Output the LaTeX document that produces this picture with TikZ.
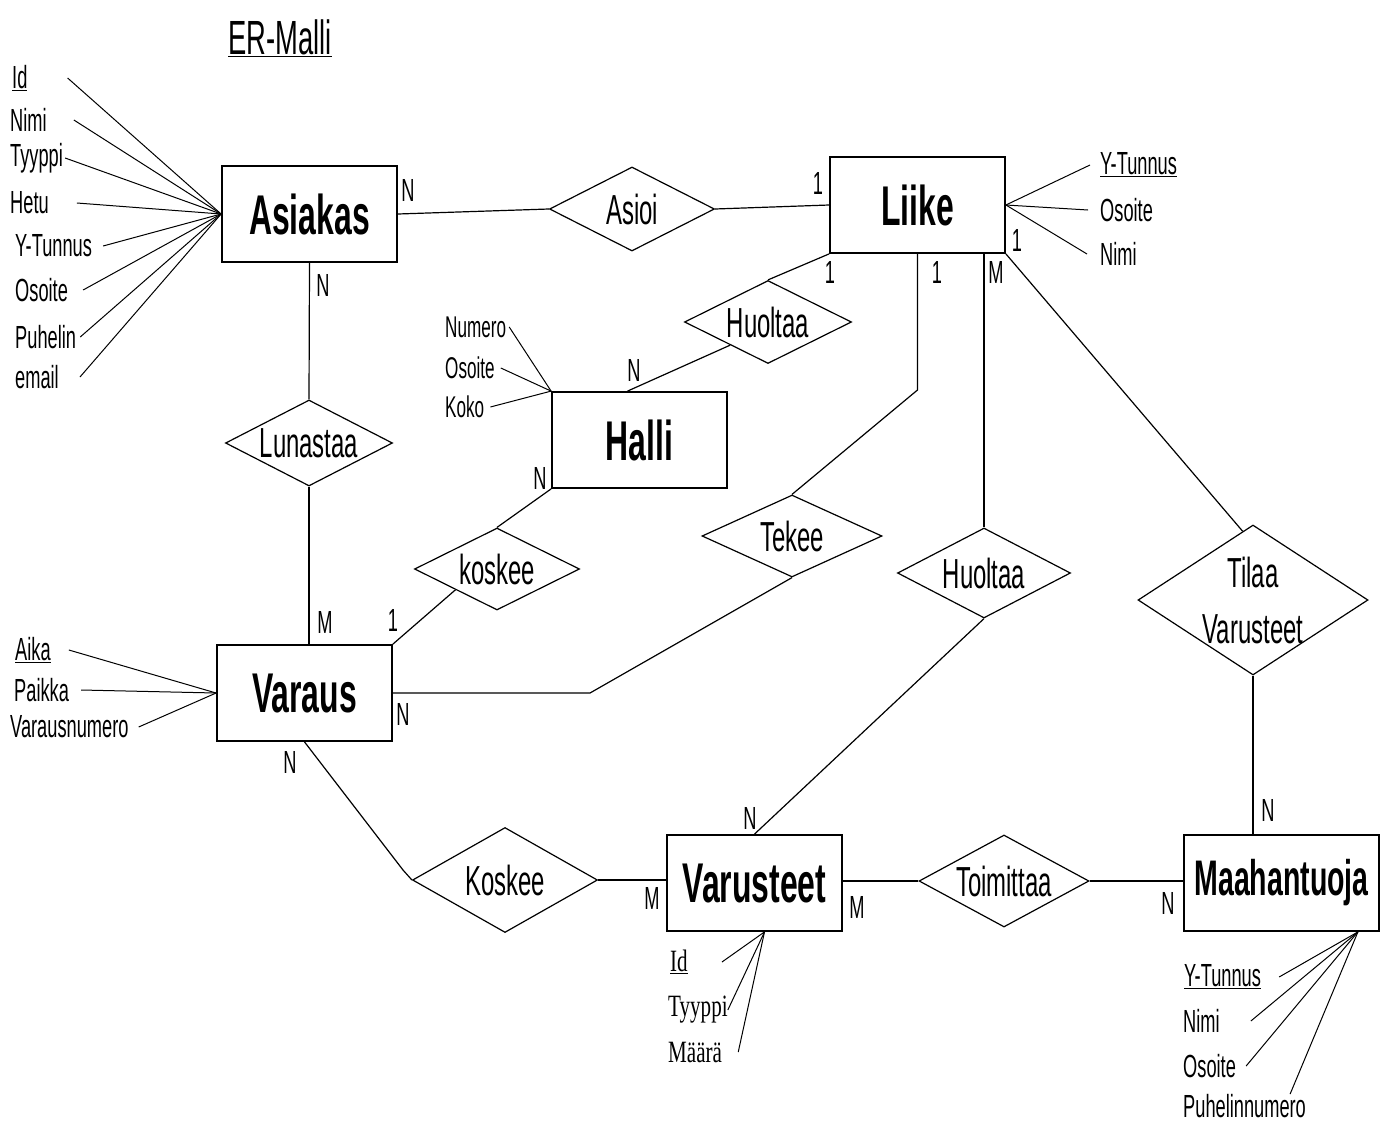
\documentclass[tikz,border=0pt]{standalone}
\usepackage{fontspec}
\setmainfont{Liberation Sans}[FakeStretch=0.57]
\newfontfamily\serifcn{Liberation Serif}[FakeStretch=0.68]
\usetikzlibrary{shapes.geometric,calc}

\tikzset{
  entity/.style={draw, line width=1.8pt, minimum width=175pt, minimum height=96pt, inner sep=0pt,
    font=\bfseries\fontsize{56}{60}\selectfont},
  relation/.style={draw, diamond, aspect=2, inner sep=-6pt, line width=1.2pt,
    font=\fontsize{42}{50}\selectfont},
  attr/.style={inner sep=0pt, anchor=west, font=\fontsize{32}{36}\selectfont},
  card/.style={inner sep=0pt, font=\fontsize{32}{36}\selectfont},
  conn/.style={line width=1.2pt},
  attrline/.style={line width=1pt}
}

\begin{document}
\begin{tikzpicture}[x=1pt, y=-1pt]
  \useasboundingbox (0,0) rectangle (1388,1124);
  \node[inner sep=0pt, font=\fontsize{48}{52}\selectfont] (title) at (280,38) {\underline{ER-Malli}};

  % entities
  \node[entity] (asiakas) at (309.5,214) {Asiakas};
  \node[entity] (liike) at (917.5,205) {Liike};
  \node[entity] (halli) at (639.5,440) {Halli};
  \node[entity] (varaus) at (304.5,693) {Varaus};
  \node[entity] (varusteet) at (754.5,883) {Varusteet};
  \node[entity, minimum width=195pt, font=\bfseries\fontsize{50}{54}\selectfont] (maahan) at (1281.5,883) {Maahantuoja};

  % relationships
  \node[relation, minimum width=165pt, minimum height=84pt] (asioi) at (632,209) {Asioi};
  \node[relation, minimum width=167pt, minimum height=83pt] (huoltaaA) at (768,322) {Huoltaa};
  \node[relation, minimum width=167pt, minimum height=86pt] (lunastaa) at (309,443) {Lunastaa};
  \node[relation, minimum width=165pt, minimum height=82pt] (koskeeA) at (497,569) {koskee};
  \node[relation, minimum width=180pt, minimum height=82pt] (tekee) at (792,536) {Tekee};
  \node[relation, minimum width=173pt, minimum height=90pt] (huoltaaB) at (984,573) {Huoltaa};
  \node[relation, aspect=1.5, inner sep=-8pt, minimum width=230pt, minimum height=150pt, align=center,
    font=\fontsize{42}{56}\selectfont] (tilaa) at (1253,600) {Tilaa\\Varusteet};
  \node[relation, minimum width=185pt, minimum height=105pt] (koskeeB) at (505,880) {Koskee};
  \node[relation, minimum width=170pt, minimum height=92pt] (toimittaa) at (1004,881) {Toimittaa};

  % connectors
  \draw[conn] (asiakas.east) -- (asioi.west);
  \draw[conn] (asioi.east) -- (liike.west);
  \draw[conn] (asiakas.south) -- (lunastaa.north);
  \draw[conn] (lunastaa.south) -- (lunastaa.south |- varaus.north);
  \draw[conn] (liike.south west) -- (huoltaaA.north);
  \draw[conn] ($(halli.north)+(-12,0)$) -- ($(huoltaaA.west)!0.55!(huoltaaA.south)$);
  \draw[conn] (halli.south west) -- (koskeeA.north);
  \draw[conn] (varaus.north east) -- ($(koskeeA.west)!0.5!(koskeeA.south)$);
  \coordinate (tekeeBend) at (917.5,390);
  \draw[conn] (liike.south) -- (tekeeBend) -- (tekee.north);
  \coordinate (varausBend) at (590,693);
  \draw[conn] (tekee.south) -- (varausBend) -- (varaus.east);
  \draw[conn] (huoltaaB.north |- liike.south) -- (huoltaaB.north);
  \draw[conn] (huoltaaB.south) -- (varusteet.north);
  \draw[conn] (liike.south east) -- ($(tilaa.north)!0.09!(tilaa.west)$);
  \draw[conn] (tilaa.south) -- (tilaa.south |- maahan.north);
  \coordinate (koskeeBend) at (403,870);
  \draw[conn] (varaus.south) -- (koskeeBend) -- (koskeeB.west);
  \draw[conn] (koskeeB.east) -- (koskeeB.east -| varusteet.west);
  \draw[conn] (varusteet.east |- toimittaa.west) -- (toimittaa.west);
  \draw[conn] (toimittaa.east) -- (toimittaa.east -| maahan.west);

  % cardinalities
  \foreach \n/\t/\x/\y in {cAsAsioi/N/408/190, cLiAsioi/1/818/183, cAsLun/N/323/285, cVaLun/M/325/622,
      cVaKos/1/393/620, cLiHuol/1/830/272, cHaHuol/N/634/370, cHaKos/N/540/478, cLiTek/1/937/272,
      cLiHuolB/M/996/272, cLiTil/1/1017/240, cVaTek/N/403/714, cVaKosB/N/290/762, cVeHuol/N/750/818,
      cVeKos/M/652/898, cVeToim/M/857/907, cMaToim/N/1168/903, cMaTil/N/1268/810}
    \node[card] (\n) at (\x,\y) {\t};

  % attributes of Asiakas
  \foreach \n/\t/\x/\y/\g in {aId/\underline{Id}/12/78/40, aNimi/Nimi/10/120/27, aTyyppi/Tyyppi/10/158/2,
      aHetu/Hetu/10/203/28, aYtunnus/Y-Tunnus/15/246/11, aOsoite/Osoite/15/290/15,
      aPuhelin/Puhelin/15/337/4, aEmail/email/15/377/21}
    {
      \node[attr] (\n) at (\x,\y) {\t};
      \draw[attrline] ([xshift=\g]\n.east) -- (asiakas.west);
    }

  % attributes of Varaus
  \foreach \n/\t/\x/\y/\g in {vAika/\underline{Aika}/15/650/18, vPaikka/Paikka/14/690/12,
      vNumero/Varausnumero/10/727/10}
    {
      \node[attr] (\n) at (\x,\y) {\t};
      \draw[attrline] ([xshift=\g]\n.east) -- (varaus.west);
    }

  % attributes of Liike
  \foreach \n/\t/\x/\y/\g in {lYtunnus/\underline{Y-Tunnus}/1100/165/-10, lOsoite/Osoite/1100/210/-12,
      lNimi/Nimi/1100/254/-13}
    {
      \node[attr] (\n) at (\x,\y) {\t};
      \draw[attrline] ([xshift=\g]\n.west) -- (liike.east);
    }

  % attributes of Halli
  \foreach \n/\t/\x/\y/\g in {hNumero/Numero/445/327/3, hOsoite/Osoite/445/368/6, hKoko/Koko/445/407/6}
    {
      \node[attr, font=\fontsize{30}{34}\selectfont] (\n) at (\x,\y) {\t};
      \draw[attrline] ([xshift=\g]\n.east) -- (halli.north west);
    }

  % attributes of Varusteet
  \coordinate (varConv) at ($(varusteet.south)+(10,0)$);
  \foreach \n/\t/\x/\y/\g in {eId/\underline{Id}/670/962/34, eTyyppi/Tyyppi/668/1010/0, eMaara/Määrä/668/1052/16}
    {
      \node[attr, font=\serifcn\fontsize{31}{34}\selectfont] (\n) at (\x,\y) {\t};
      \draw[attrline] ([xshift=\g]\n.east) -- (varConv);
    }

  % attributes of Maahantuoja
  \coordinate (maahanConv) at ($(maahan.south east)+(-22,0)$);
  \foreach \n/\t/\x/\y/\g in {mYtunnus/\underline{Y-Tunnus}/1184/977/18, mNimi/Nimi/1183/1021/31,
      mOsoite/Osoite/1183/1066/10}
    {
      \node[attr] (\n) at (\x,\y) {\t};
      \draw[attrline] ([xshift=\g]\n.east) -- (maahanConv);
    }
  \node[attr] (mPuhelin) at (1183,1106) {Puhelinnumero};
  \draw[attrline] ([xshift=-16]mPuhelin.north east) -- (maahanConv);
\end{tikzpicture}
\end{document}
